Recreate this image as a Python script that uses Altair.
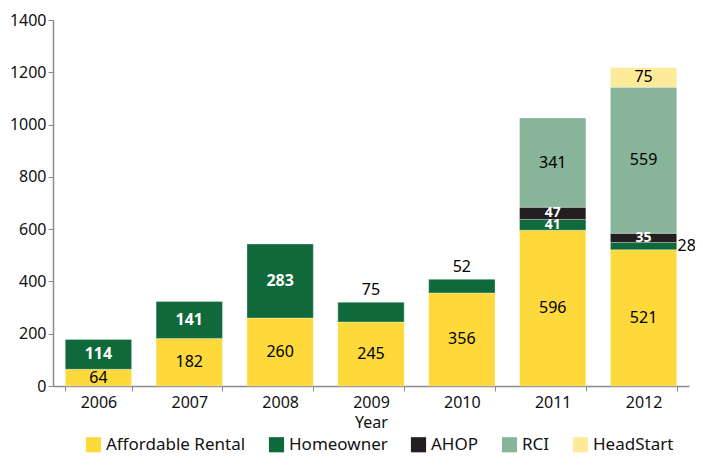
import altair as alt
import pandas as pd

years = ["2006", "2007", "2008", "2009", "2010", "2011", "2012"]
series = ["Affordable Rental", "Homeowner", "AHOP", "RCI", "HeadStart"]
colors = ["#FDD93B", "#10693A", "#231F20", "#88B49A", "#FDEB9A"]

affordable = [64, 182, 260, 245, 356, 596, 521]
homeowner = [114, 141, 283, 75, 52, 41, 28]
ahop = [0, 0, 0, 0, 0, 47, 35]
rci = [0, 0, 0, 0, 0, 341, 559]
headstart = [0, 0, 0, 0, 0, 0, 75]

# label placement per series / year
ar_style = ["black"] * 7
ho_style = ["white", "white", "white", "above", "above", "white", "right"]
ahop_style = ["white"] * 7
rci_style = ["black"] * 7
hs_style = ["black"] * 7

values = [affordable, homeowner, ahop, rci, headstart]
styles = [ar_style, ho_style, ahop_style, rci_style, hs_style]

rows = []
for i, y in enumerate(years):
    base = 0
    for k, s in enumerate(series):
        v = values[k][i]
        if v <= 0:
            continue
        rows.append({
            "Year": y, "series": s, "value": v, "order": k,
            "bottom": base, "top": base + v, "mid": base + v / 2,
            "style": styles[k][i],
        })
        base += v
df = pd.DataFrame(rows)

FONT = "Noto Sans"
FS = 16
W, H = 636, 366

x_enc = alt.X("Year:N", scale=alt.Scale(paddingInner=0.27, paddingOuter=0.135),
              axis=alt.Axis(title="Year", labelAngle=0, tickBand="extent", labelPadding=3))

bars = alt.Chart(df).mark_bar(stroke="#ffffff", strokeWidth=0.5, strokeOpacity=0.6).encode(
    x=x_enc,
    y=alt.Y("value:Q", stack="zero",
            scale=alt.Scale(domain=[0, 1400], nice=False),
            axis=alt.Axis(title=None, values=list(range(0, 1401, 200)), format="d",
                          labelPadding=2)),
    color=alt.Color("series:N", scale=alt.Scale(domain=series, range=colors),
                    legend=alt.Legend(title=None, orient="none", direction="horizontal",
                                      legendX=32, legendY=H + 50,
                                      symbolType="square", symbolSize=230,
                                      symbolStrokeWidth=0, labelFontSize=17,
                                      labelFont=FONT, columnPadding=22, labelOffset=4,
                                      symbolOffset=0, padding=0)),
    order=alt.Order("order:Q", sort="ascending"),
)

lab_white = alt.Chart(df).transform_filter(
    (alt.datum.style == "white") & (alt.datum.value >= 60)
).mark_text(
    color="white", fontWeight="bold", fontSize=FS, font=FONT, baseline="middle"
).encode(x="Year:N", y="mid:Q", text="value:Q")

lab_white_small = alt.Chart(df).transform_filter(
    (alt.datum.style == "white") & (alt.datum.value < 60)
).mark_text(
    color="white", fontWeight="bold", fontSize=14, font=FONT, baseline="middle"
).encode(x="Year:N", y="mid:Q", text="value:Q")

lab_black = alt.Chart(df).transform_filter(alt.datum.style == "black").mark_text(
    color="black", fontSize=FS, font=FONT, baseline="middle"
).encode(x="Year:N", y="mid:Q", text="value:Q")

lab_above = alt.Chart(df).transform_filter(alt.datum.style == "above").mark_text(
    color="black", fontSize=FS, font=FONT, baseline="bottom", dy=-4
).encode(x="Year:N", y="top:Q", text="value:Q")

lab_right = alt.Chart(df).transform_filter(alt.datum.style == "right").mark_text(
    color="black", fontSize=FS, font=FONT, baseline="middle", align="left", dx=34
).encode(x="Year:N", y="mid:Q", text="value:Q")

chart = alt.layer(bars, lab_white, lab_white_small, lab_black, lab_above, lab_right).properties(
    width=W, height=H,
    autosize=alt.AutoSizeParams(type="none"),
    padding={"left": 45, "top": 12, "right": 6, "bottom": 70}
).configure_view(stroke=None).configure_axis(
    grid=False, domainColor="#8a8a8a", tickColor="#8a8a8a", domainWidth=1.5,
    labelFont=FONT, labelFontSize=FS, labelColor="#111111",
    titleFont=FONT, titleFontSize=FS, titleFontWeight="normal", titleColor="#111111",
    tickSize=5
).configure_axisX(titlePadding=4).configure_legend(labelColor="#111111")

chart.save("out.html", embed_options={"renderer": "svg", "actions": False})
